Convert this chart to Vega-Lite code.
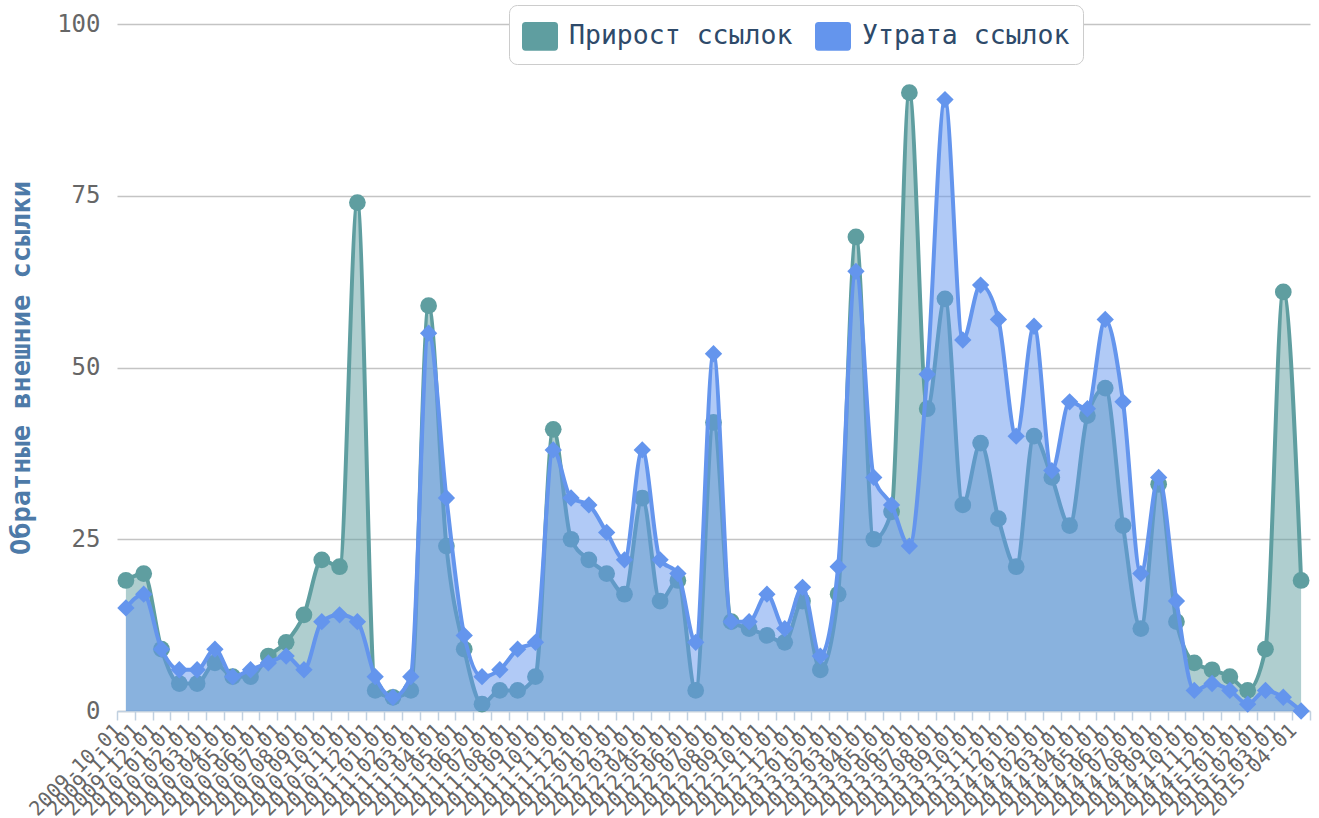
{
  "$schema": "https://vega.github.io/schema/vega-lite/v6.json",
  "width": 1193,
  "height": 687,
  "autosize": {"type": "none"},
  "padding": {"left": 117, "top": 24, "right": 9, "bottom": 107},
  "background": "white",
  "config": {
    "view": {"stroke": null},
    "font": "DejaVu Sans Mono"
  },
  "data": {
    "values": [
      {"date": "2009-10-01", "gain": 19, "loss": 15},
      {"date": "2009-11-01", "gain": 20, "loss": 17},
      {"date": "2009-12-01", "gain": 9, "loss": 9},
      {"date": "2010-01-01", "gain": 4, "loss": 6},
      {"date": "2010-02-01", "gain": 4, "loss": 6},
      {"date": "2010-03-01", "gain": 7, "loss": 9},
      {"date": "2010-04-01", "gain": 5, "loss": 5},
      {"date": "2010-05-01", "gain": 5, "loss": 6},
      {"date": "2010-06-01", "gain": 8, "loss": 7},
      {"date": "2010-07-01", "gain": 10, "loss": 8},
      {"date": "2010-08-01", "gain": 14, "loss": 6},
      {"date": "2010-09-01", "gain": 22, "loss": 13},
      {"date": "2010-10-01", "gain": 21, "loss": 14},
      {"date": "2010-11-01", "gain": 74, "loss": 13},
      {"date": "2010-12-01", "gain": 3, "loss": 5},
      {"date": "2011-01-01", "gain": 2, "loss": 2},
      {"date": "2011-02-01", "gain": 3, "loss": 5},
      {"date": "2011-03-01", "gain": 59, "loss": 55},
      {"date": "2011-04-01", "gain": 24, "loss": 31},
      {"date": "2011-05-01", "gain": 9, "loss": 11},
      {"date": "2011-06-01", "gain": 1, "loss": 5},
      {"date": "2011-07-01", "gain": 3, "loss": 6},
      {"date": "2011-08-01", "gain": 3, "loss": 9},
      {"date": "2011-09-01", "gain": 5, "loss": 10},
      {"date": "2011-10-01", "gain": 41, "loss": 38},
      {"date": "2011-11-01", "gain": 25, "loss": 31},
      {"date": "2011-12-01", "gain": 22, "loss": 30},
      {"date": "2012-01-01", "gain": 20, "loss": 26},
      {"date": "2012-02-01", "gain": 17, "loss": 22},
      {"date": "2012-03-01", "gain": 31, "loss": 38},
      {"date": "2012-04-01", "gain": 16, "loss": 22},
      {"date": "2012-05-01", "gain": 19, "loss": 20},
      {"date": "2012-06-01", "gain": 3, "loss": 10},
      {"date": "2012-07-01", "gain": 42, "loss": 52},
      {"date": "2012-08-01", "gain": 13, "loss": 13},
      {"date": "2012-09-01", "gain": 12, "loss": 13},
      {"date": "2012-10-01", "gain": 11, "loss": 17},
      {"date": "2012-11-01", "gain": 10, "loss": 12},
      {"date": "2012-12-01", "gain": 16, "loss": 18},
      {"date": "2013-01-01", "gain": 6, "loss": 8},
      {"date": "2013-02-01", "gain": 17, "loss": 21},
      {"date": "2013-03-01", "gain": 69, "loss": 64},
      {"date": "2013-04-01", "gain": 25, "loss": 34},
      {"date": "2013-05-01", "gain": 29, "loss": 30},
      {"date": "2013-06-01", "gain": 90, "loss": 24},
      {"date": "2013-07-01", "gain": 44, "loss": 49},
      {"date": "2013-08-01", "gain": 60, "loss": 89},
      {"date": "2013-09-01", "gain": 30, "loss": 54},
      {"date": "2013-10-01", "gain": 39, "loss": 62},
      {"date": "2013-11-01", "gain": 28, "loss": 57},
      {"date": "2013-12-01", "gain": 21, "loss": 40},
      {"date": "2014-01-01", "gain": 40, "loss": 56},
      {"date": "2014-02-01", "gain": 34, "loss": 35},
      {"date": "2014-03-01", "gain": 27, "loss": 45},
      {"date": "2014-04-01", "gain": 43, "loss": 44},
      {"date": "2014-05-01", "gain": 47, "loss": 57},
      {"date": "2014-06-01", "gain": 27, "loss": 45},
      {"date": "2014-07-01", "gain": 12, "loss": 20},
      {"date": "2014-08-01", "gain": 33, "loss": 34},
      {"date": "2014-09-01", "gain": 13, "loss": 16},
      {"date": "2014-10-01", "gain": 7, "loss": 3},
      {"date": "2014-11-01", "gain": 6, "loss": 4},
      {"date": "2014-12-01", "gain": 5, "loss": 3},
      {"date": "2015-01-01", "gain": 3, "loss": 1},
      {"date": "2015-02-01", "gain": 9, "loss": 3},
      {"date": "2015-03-01", "gain": 61, "loss": 2},
      {"date": "2015-04-01", "gain": 19, "loss": 0}
    ]
  },
  "encoding": {
    "x": {
      "field": "date",
      "type": "ordinal",
      "sort": null,
      "bandPosition": 0.5,
      "scale": {"type": "band", "paddingInner": 0, "paddingOuter": 0},
      "axis": {
        "title": null,
        "tickBand": "extent",
        "labelAngle": -45,
        "labelAlign": "right",
        "labelBaseline": "middle",
        "labelFont": "DejaVu Sans Mono",
        "labelFontSize": 20,
        "labelColor": "#666666",
        "labelPadding": 7,
        "labelOffset": -8,
        "labelOverlap": false,
        "labelBound": false,
        "labelFlush": false,
        "domainColor": "#C0D0E0",
        "domainWidth": 1.5,
        "tickColor": "#C0D0E0",
        "tickSize": 9,
        "tickWidth": 1.5,
        "grid": false
      }
    }
  },
  "layer": [
    {
      "mark": {"type": "area", "interpolate": "monotone", "fillOpacity": 0.5},
      "encoding": {
        "y": {
          "field": "gain",
          "type": "quantitative",
          "scale": {"domain": [0, 100], "nice": false},
          "axis": {
            "title": "Обратные внешние ссылки",
            "titleFont": "DejaVu Sans Mono",
            "titleFontWeight": "bold",
            "titleFontSize": 27,
            "titleColor": "#4d7aa8",
            "titleBaseline": "middle",
            "titleX": -96,
            "labelFont": "DejaVu Sans Mono",
            "labelFontSize": 24,
            "labelColor": "#666666",
            "labelPadding": 17,
            "values": [0, 25, 50, 75, 100],
            "domain": false,
            "ticks": false,
            "gridColor": "#c4c4c4",
            "gridWidth": 1.5
          }
        },
        "color": {
          "datum": "Прирост ссылок",
          "scale": {"domain": ["Прирост ссылок", "Утрата ссылок"], "range": ["#5F9EA0", "#6495ED"]},
          "legend": {
            "title": null,
            "orient": "none",
            "legendX": 392,
            "legendY": -19,
            "direction": "horizontal",
            "labelFont": "DejaVu Sans Mono",
            "labelFontSize": 26.5,
            "labelColor": "#2e4a6a",
            "labelLimit": 400,
            "labelOffset": 11,
            "columnPadding": 22,
            "symbolType": "M-0.8,-0.8L0.8,-0.8Q1,-0.8,1,-0.6L1,0.6Q1,0.8,0.8,0.8L-0.8,0.8Q-1,0.8,-1,0.6L-1,-0.6Q-1,-0.8,-0.8,-0.8Z",
            "symbolSize": 1296,
            "symbolOpacity": 1,
            "symbolStrokeWidth": 0,
            "strokeColor": "#cccccc",
            "fillColor": "white",
            "cornerRadius": 8,
            "padding": 13
          }
        }
      }
    },
    {
      "mark": {"type": "line", "interpolate": "monotone", "strokeWidth": 4},
      "encoding": {
        "y": {"field": "gain", "type": "quantitative"},
        "color": {"datum": "Прирост ссылок"}
      }
    },
    {
      "mark": {"type": "point", "shape": "circle", "filled": true, "opacity": 1, "size": 280},
      "encoding": {
        "y": {"field": "gain", "type": "quantitative"},
        "color": {"datum": "Прирост ссылок"}
      }
    },
    {
      "mark": {"type": "area", "interpolate": "monotone", "fillOpacity": 0.5},
      "encoding": {
        "y": {"field": "loss", "type": "quantitative"},
        "color": {"datum": "Утрата ссылок"}
      }
    },
    {
      "mark": {"type": "line", "interpolate": "monotone", "strokeWidth": 4},
      "encoding": {
        "y": {"field": "loss", "type": "quantitative"},
        "color": {"datum": "Утрата ссылок"}
      }
    },
    {
      "mark": {"type": "point", "shape": "diamond", "filled": true, "opacity": 1, "size": 300},
      "encoding": {
        "y": {"field": "loss", "type": "quantitative"},
        "color": {"datum": "Утрата ссылок"}
      }
    }
  ]
}
